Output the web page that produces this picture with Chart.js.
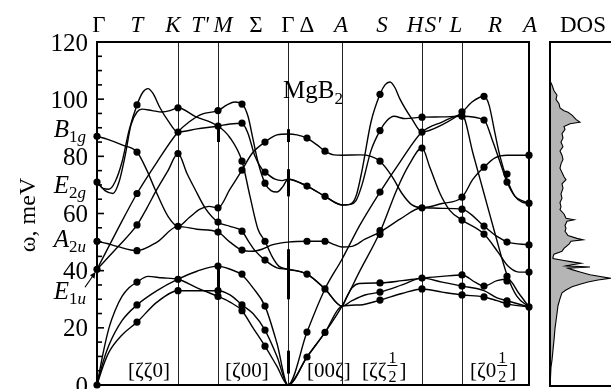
<!DOCTYPE html>
<html>
<head>
<meta charset="utf-8">
<script src="https://cdn.jsdelivr.net/npm/chart.js@4.4.0/dist/chart.umd.min.js"></script>
<style>
  html, body { margin: 0; padding: 0; background: #fff; }
  #wrap { position: relative; width: 611px; height: 389px; overflow: hidden; }
  #main { position: absolute; left: 0; top: 0; }
  #dos { position: absolute; left: 549px; top: 0; }
</style>
</head>
<body>
<div id="wrap">
  <canvas id="main" width="611" height="389"></canvas>
  <canvas id="dos" width="62" height="389"></canvas>
</div>
<script>
// path coordinate along Γ-K-M-Γ-A-H-L-A, energies in meV
const symPoints = [0, 81, 121, 191, 245, 325, 365, 432];
const yTicks = [0, 20, 40, 60, 80, 100, 120];

const topLabels = [
  ["Γ", 2, false], ["T", 40, true], ["K", 76, true], ["T'", 103, true], ["M", 126, true],
  ["Σ", 159, false], ["Γ", 191, false], ["Δ", 210, false], ["A", 244, true], ["S", 285, true],
  ["H", 318, true], ["S'", 336, true], ["L", 359, true], ["R", 398, true], ["A", 433, true]
];

const modeNames = ["B", "E", "A", "E"];
const modeSubs = ["1g", "2g", "2u", "1u"];
const modeLevels = [89.5, 70.1, 51, 32.8];

// calculated branches
const branch1 = [[0,71],[6,68.8],[12,68.5],[18,71],[25,78],[32,89],[40,98],[46,102.5],[51,103.7],[56,102],[63,97],[71,92.5],[81,88.5],[100,89.6],[121,90.6],[133,91.3],[145,91.6],[151,88],[158,80],[165,75.5],[168,74.5],[178,72],[185,71.5],[191,72],[210,69.6],[228,66],[245,63],[253,63.2],[259,66],[265,75],[274,92],[283,101.7],[288,105],[293,106],[298,104],[303,100],[315,93],[325,88.5],[345,91],[365,95.4],[375,99],[387,101],[392,98],[398,88],[403,80],[410,72],[418,66],[425,64],[432,63.6]];
const branch2 = [[0,71],[8,68],[16,67],[22,71],[28,80],[34,91],[40,95.5],[45,96.5],[55,96],[65,95.5],[73,96],[81,97],[98,94],[121,90.6],[133,86.5],[145,78.3],[153,66],[161,54.5],[168,50.3],[175,45],[182,41.5],[191,40.5],[210,38.8],[228,33.6],[245,27.6],[250,31],[255,34],[262,35.5],[283,35.7],[305,36.5],[325,37.4],[345,38],[365,38.5],[378,36],[387,34.6],[400,36.5],[411,37],[422,32],[432,27.3]];
const branch3 = [[0,87],[10,86],[25,84],[40,81.5],[50,75],[58,68.5],[71,59],[81,55.5],[92,58.5],[103,61.5],[112,62.5],[121,62],[133,68.5],[145,75.2],[155,81],[168,85],[180,87.5],[191,87.8],[200,87.5],[210,86.4],[220,84],[228,81.8],[237,80.5],[245,80.4],[263,80.5],[274,80],[283,78.3],[295,73],[305,67],[315,63],[325,62],[345,63.5],[365,65.7],[376,72],[387,76.2],[398,79.5],[410,80.4],[432,80.4]];
const branch4 = [[0,50.3],[10,49.5],[20,48.5],[40,47],[60,50],[81,55.5],[100,54.5],[121,53.5],[133,50],[145,47.2],[155,46.8],[165,47.5],[175,49],[191,50],[210,50.3],[228,50.3],[238,49],[245,48.3],[255,48.5],[268,51],[283,53.5],[303,58],[325,62],[345,61.8],[365,61.5],[387,55.6],[400,52],[411,50],[432,49]];
const branch5 = [[0,40.5],[20,54],[40,67],[60,78],[81,88.5],[92,92],[105,94.8],[121,96],[130,98],[138,99],[145,98.3],[151,94],[156,86],[161,78],[168,70.6],[174,68],[180,67.5],[186,69.5],[191,72],[210,69.6],[228,66],[245,63],[253,63.2],[259,64.5],[265,70],[274,82],[283,89],[290,92.5],[297,94],[308,93.2],[325,93.7],[345,93.8],[365,94],[387,92.7],[396,85],[403,78],[410,71],[418,66],[425,64.5],[432,63.6]];
const branch6 = [[0,40.5],[20,48],[40,56],[50,62],[60,68.5],[71,75],[81,81],[90,74],[98,68.5],[108,62],[121,57],[133,55.5],[145,53.8],[152,50],[158,47],[168,43.7],[180,41],[191,40.5],[210,38.8],[228,33.6],[245,27.6],[255,29.5],[268,31.5],[283,32.5],[305,35],[325,37.4],[345,36],[365,34.6],[387,33],[400,30.5],[411,29.4],[432,27.3]];
const branch7 = [[0,0],[6,11],[12,20],[18,26],[25,31],[32,34],[40,36],[51,38],[65,37.5],[81,37],[100,34],[121,31],[133,29],[145,26],[156,20],[168,13.6],[180,6.5],[191,0],[210,9.8],[228,18.4],[245,27.6],[263,28],[283,29.7],[305,32],[325,33.6],[345,32.5],[365,31.5],[387,30.8],[400,29.5],[411,28.3],[432,27.3]];
const branch8 = [[0,0],[6,8],[12,14],[25,22.5],[40,28],[60,33],[81,37],[100,39.8],[121,41.6],[133,40.5],[145,38.5],[156,34],[168,27.6],[180,14.5],[191,0],[210,9.8],[228,18.4],[245,27.6],[263,40],[283,53.5],[300,68.5],[312,77],[325,82.9],[333,76],[343,67],[353,61],[365,57.7],[387,52.8],[401,46.5],[411,41.6],[422,39.5],[432,39.5]];
const branch9 = [[0,0],[6,6.5],[12,11.5],[25,17.5],[40,22],[60,29],[81,33],[100,33],[121,33],[133,31.5],[145,28],[156,25],[168,19.2],[180,10],[191,0],[210,18.5],[228,33.6],[245,44],[263,56],[283,67.5],[303,78],[325,88.5],[345,92],[365,94.5],[376,81],[387,67],[398,53],[410,38.5],[420,31],[432,27.3]];

// measured points
const measured = [
  [0,87],[0,71],[0,50.3],[0,40.5],[0,0],
  [40,98],[40,81.5],[40,67],[40,56],[40,47],[40,36],[40,28],[40,22],
  [81,97],[81,88.5],[81,81],[81,55.5],[81,37],[81,33],
  [121,96],[121,90.6],[121,62],[121,57],[121,53.5],[121,41.6],[121,33],[121,31],
  [145,98.3],[145,91.6],[145,78.3],[145,75.2],[145,53.8],[145,47.2],[145,38.8],[145,28],[145,26],
  [168,85],[168,74.5],[168,70.6],[168,50.3],[168,43.7],[168,27.6],[168,19.2],[168,13.6],
  [210,86.4],[210,69.6],[210,50.3],[210,38.8],[210,18.5],[210,9.8],
  [228,81.8],[228,66],[228,50.3],[228,33.6],[228,18.4],
  [283,101.7],[283,89],[283,78.3],[283,67.5],[283,54],[283,52.7],[283,35.7],[283,32.5],[283,29.7],
  [325,93.7],[325,88.5],[325,82.9],[325,62],[325,37.4],[325,33.6],
  [365,95.6],[365,94],[365,65.7],[365,61.5],[365,57.7],[365,38.5],[365,34.6],[365,31.5],
  [387,101],[387,92.7],[387,76.2],[387,55.6],[387,52.8],[387,34.6],[387,30.8],
  [410,73.8],[410,71],[410,50],[410,38],[410,36.4],[410,29.4],[410,28.3],
  [432,80.4],[432,63.6],[432,49],[432,39.5],[432,27.3]
];

// thick pieces on the vertical lines
const thickM = [[85, 90.5], [30, 41.6]];
const thickGamma = [[85, 89.5], [66, 75.5], [30, 47.5], [4, 12]];

// density of states (energy, height)
const dosE = [106.5,105,103,101.5,100,98.5,97,96,95.5,94.5,93,92,91.5,90.5,89.5,88,86.5,85,83.5,82,80.5,79,77.5,76,74.5,73,72,70.5,69,67,65.5,64,62.5,61.5,60,58.5,58,57.5,56,55,54,52.5,51.5,51,50.5,49.5,48,47,46,45,44.5,43.8,43.3,42.8,42.3,41.9,41.5,41.1,40.6,39.8,38.8,37.6,37,36.3,35.5,34.6,33.5,32.5,30.5,28,24,20,16,12.6,9,6.6,3,0];
const dosW = [0,2,4,7,6,9,10,14,18,22,26,30,20,14,15,12,13,11,13,10,12,13,11,10,12,14,16,12,13,11,12,10,11,10,14,16,24,17,15,16,15,18,27,33,21,19,14,12,4,3,3,14,22,31,22,16,40,18,22,30,40,60,48,38,30,22,16,12,10,8,6.5,5,4,3,2,1,0.5,0];

const serif = '"Liberation Serif", "DejaVu Serif", serif';

const branches = [branch1, branch2, branch3, branch4, branch5, branch6, branch7, branch8, branch9];
const datasets = branches.map(b => ({
  data: b.map(p => ({ x: p[0], y: p[1] })),
  borderColor: "#000",
  borderWidth: 1.4,
  pointRadius: 0,
  fill: false,
  cubicInterpolationMode: "monotone"
}));
datasets.push({
  data: measured.map(p => ({ x: p[0], y: p[1] })),
  showLine: false,
  pointRadius: 3.6,
  pointBackgroundColor: "#000",
  pointBorderColor: "#000",
  pointBorderWidth: 0,
  clip: false
});

function drawSubLabel(ctx, main, sub, xRight, yBase) {
  ctx.font = "italic 25px " + serif;
  const w1 = ctx.measureText(main).width;
  const parts = sub.split("").map(ch => ({ ch: ch, font: (/\d/.test(ch) ? "" : "italic ") + "17px " + serif }));
  let w2 = 0;
  parts.forEach(p => { ctx.font = p.font; p.w = ctx.measureText(p.ch).width; w2 += p.w; });
  let x = xRight - w1 - w2;
  ctx.font = "italic 25px " + serif;
  ctx.fillText(main, x, yBase);
  x += w1;
  parts.forEach(p => { ctx.font = p.font; ctx.fillText(p.ch, x, yBase + 5); x += p.w; });
}

const decor = {
  id: "decor",
  beforeDatasetsDraw(chart) {
    const { ctx, chartArea: a, scales: { x, y } } = chart;
    ctx.save();
    ctx.strokeStyle = "#222";
    ctx.lineWidth = 1;
    symPoints.slice(1, -1).forEach(q => {
      const px = Math.round(x.getPixelForValue(q)) + 0.5;
      ctx.beginPath(); ctx.moveTo(px, a.top); ctx.lineTo(px, a.bottom); ctx.stroke();
    });
    ctx.lineWidth = 3;
    ctx.strokeStyle = "#000";
    [[121, thickM], [191, thickGamma]].forEach(([q, segs]) => {
      const px = Math.round(x.getPixelForValue(q)) + 0.5;
      segs.forEach(s => {
        ctx.beginPath(); ctx.moveTo(px, y.getPixelForValue(s[0])); ctx.lineTo(px, y.getPixelForValue(s[1])); ctx.stroke();
      });
    });
    ctx.restore();
  },
  afterDatasetsDraw(chart) {
    const { ctx, chartArea: a, scales: { x, y } } = chart;
    ctx.save();
    ctx.strokeStyle = "#000";
    ctx.fillStyle = "#000";
    ctx.lineWidth = 2;
    ctx.strokeRect(a.left, a.top, a.right - a.left, a.bottom - a.top);

    // ticks inside the left axis
    ctx.lineWidth = 1.6;
    for (let v = 5; v < 120; v += 5) {
      const py = y.getPixelForValue(v);
      const len = v % 20 === 0 ? 7 : 5;
      ctx.beginPath(); ctx.moveTo(a.left, py); ctx.lineTo(a.left + len, py); ctx.stroke();
    }

    // numeric tick labels
    ctx.font = "25px " + serif;
    ctx.textAlign = "right";
    ctx.textBaseline = "alphabetic";
    yTicks.forEach(v => ctx.fillText(String(v), 88, y.getPixelForValue(v) + 8.5));

    // mode labels
    ctx.textAlign = "left";
    modeNames.forEach((m, i) => drawSubLabel(ctx, m, modeSubs[i], 86, y.getPixelForValue(modeLevels[i]) + 8));

    // arrow to the E1u point
    const ax = x.getPixelForValue(0), ay = y.getPixelForValue(40.5);
    ctx.lineWidth = 1.2;
    ctx.beginPath(); ctx.moveTo(ax - 12, ay + 18); ctx.lineTo(ax - 3, ay + 5); ctx.stroke();
    ctx.beginPath();
    ctx.moveTo(ax - 1.5, ay + 2.5); ctx.lineTo(ax - 7, ay + 6); ctx.lineTo(ax - 2.5, ay + 9.5);
    ctx.closePath(); ctx.fill();

    // axis title
    ctx.save();
    ctx.translate(35, 215);
    ctx.rotate(-Math.PI / 2);
    ctx.font = "24px " + serif;
    ctx.textAlign = "center";
    ctx.fillText("ω, meV", 0, 0);
    ctx.restore();

    // symmetry point labels
    ctx.textAlign = "center";
    topLabels.forEach(([t, q, it]) => {
      ctx.font = (it ? "italic " : "") + "23px " + serif;
      ctx.fillText(t, x.getPixelForValue(q), 32);
    });

    // compound label
    ctx.textAlign = "left";
    ctx.font = "25px " + serif;
    const mx = x.getPixelForValue(186);
    ctx.fillText("MgB", mx, 98);
    const mw = ctx.measureText("MgB").width;
    ctx.font = "17px " + serif;
    ctx.fillText("2", mx + mw, 104);

    // direction labels
    ctx.font = "21px " + serif;
    [["[ζζ0]", 31], ["[ζ00]", 128], ["[00ζ]", 210]].forEach(([t, q]) => ctx.fillText(t, x.getPixelForValue(q), 377));
    [["[ζζ", 265], ["[ζ0", 373]].forEach(([t, q]) => {
      ctx.font = "21px " + serif;
      const px = x.getPixelForValue(q);
      ctx.fillText(t, px, 377);
      const fx = px + ctx.measureText(t).width + 6;
      ctx.textAlign = "center";
      ctx.font = "16px " + serif;
      ctx.fillText("1", fx, 363);
      ctx.fillText("2", fx, 382);
      ctx.lineWidth = 1;
      ctx.beginPath(); ctx.moveTo(fx - 5, 365.5); ctx.lineTo(fx + 5, 365.5); ctx.stroke();
      ctx.textAlign = "left";
      ctx.font = "21px " + serif;
      ctx.fillText("]", fx + 7, 377);
    });
    ctx.restore();
  }
};

new Chart(document.getElementById("main").getContext("2d"), {
  type: "line",
  data: { datasets: datasets },
  options: {
    responsive: false,
    animation: false,
    layout: { padding: { left: 97, right: 82, top: 42, bottom: 3 } },
    scales: {
      x: { type: "linear", min: 0, max: 432, display: false },
      y: { type: "linear", min: 0, max: 120, display: false }
    },
    plugins: { legend: { display: false }, tooltip: { enabled: false } }
  },
  plugins: [decor]
});

const dosFrame = {
  id: "dosFrame",
  afterDatasetsDraw(chart) {
    const { ctx, chartArea: a } = chart;
    ctx.save();
    ctx.strokeStyle = "#000";
    ctx.lineWidth = 2;
    ctx.beginPath();
    ctx.moveTo(a.right + 5, a.top); ctx.lineTo(a.left, a.top); ctx.lineTo(a.left, a.bottom); ctx.lineTo(a.right + 5, a.bottom);
    ctx.stroke();
    ctx.fillStyle = "#000";
    ctx.font = "23px " + serif;
    ctx.textAlign = "center";
    ctx.fillText("DOS", a.left + 33, 32);
    ctx.restore();
  }
};

new Chart(document.getElementById("dos").getContext("2d"), {
  type: "line",
  data: {
    datasets: [{
      data: dosE.map((e, i) => ({ x: dosW[i], y: e })),
      borderColor: "#000",
      borderWidth: 1.1,
      backgroundColor: "#b5b5b5",
      fill: "origin",
      pointRadius: 0,
      tension: 0
    }]
  },
  options: {
    indexAxis: "y",
    responsive: false,
    animation: false,
    layout: { padding: { left: 1, right: 0, top: 42, bottom: 3 } },
    scales: {
      x: { type: "linear", min: 0, max: 61, display: false },
      y: { type: "linear", min: 0, max: 120, display: false }
    },
    plugins: { legend: { display: false }, tooltip: { enabled: false } }
  },
  plugins: [dosFrame]
});
</script>
</body>
</html>
